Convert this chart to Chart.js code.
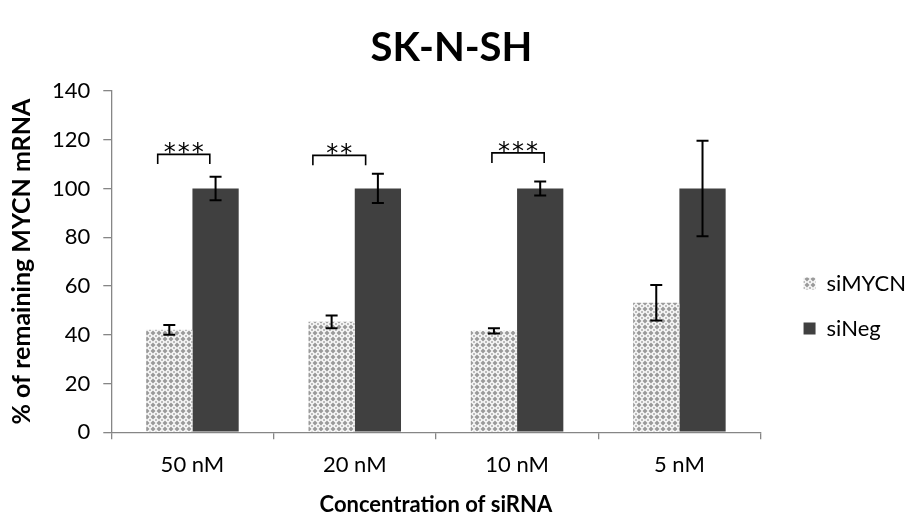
<!DOCTYPE html>
<html>
<head>
<meta charset="utf-8">
<script src="https://cdn.jsdelivr.net/npm/chart.js@4"></script>
<style>
  html, body { margin: 0; padding: 0; background: #ffffff; }
  #wrap { width: 912px; height: 518px; position: relative; }
</style>
</head>
<body>
<div id="wrap"><canvas id="c" width="912" height="518"></canvas></div>
<script>
// ---- data ----
const categories = ['50 nM', '20 nM', '10 nM', '5 nM'];
const siMYCN = [42.0, 45.3, 41.6, 53.1];
const siMYCNErr = [2.0, 2.6, 1.1, 7.3];
const siNeg = [100, 100, 100, 100];
const siNegErr = [4.8, 6.0, 2.9, 19.6];
const sigLabels = ['***', '**', '***', ''];
const bracketTop = [114, 113.6, 114.6, null];
const bracketLegBottom = [110, 109.5, 110.5, null];
const bracketStart = [-0.214, -0.258, -0.155, null]; // in category widths from center
const bracketEnd = [0.107, 0.067, 0.167, null];
const yTicks = [0, 20, 40, 60, 80, 100, 120, 140];

const FONT = 'Lato, "Open Sans", sans-serif';

function makePattern() {
  const p = document.createElement('canvas');
  p.width = 6; p.height = 6;
  const g = p.getContext('2d');
  g.fillStyle = '#f6f6f6';
  g.fillRect(0, 0, 6, 6);
  g.fillStyle = '#9a9a9a';
  g.beginPath();
  g.moveTo(3, 0.5); g.lineTo(5.5, 3); g.lineTo(3, 5.5); g.lineTo(0.5, 3); g.closePath();
  g.fill();
  g.fillStyle = '#bcbcbc';
  g.fillRect(0, 0, 1, 1); g.fillRect(5, 0, 1, 1); g.fillRect(0, 5, 1, 1); g.fillRect(5, 5, 1, 1);
  return document.getElementById('c').getContext('2d').createPattern(p, 'repeat');
}
const pattern = makePattern();

const errPlugin = {
  id: 'errbars',
  afterLayout(chart) {
    const lg = chart.legend;
    if (lg) {
      const dx = 20, dy = 47;
      lg.left += dx; lg.right += dx;
      lg.top += dy; lg.bottom += dy;
    }
  },
  afterDatasetsDraw(chart) {
    const ctx = chart.ctx;
    const y = chart.scales.y;
    const x = chart.scales.x;
    const errs = [siMYCNErr, siNegErr];
    ctx.save();
    ctx.strokeStyle = '#000000';
    ctx.lineWidth = 2;
    chart.data.datasets.forEach((ds, di) => {
      const meta = chart.getDatasetMeta(di);
      meta.data.forEach((el, i) => {
        const v = ds.data[i], e = errs[di][i];
        const yt = y.getPixelForValue(v + e), yb = y.getPixelForValue(v - e);
        const cx = el.x, hw = 6;
        ctx.beginPath();
        ctx.moveTo(cx, yt); ctx.lineTo(cx, yb);
        ctx.moveTo(cx - hw, yt); ctx.lineTo(cx + hw, yt);
        ctx.moveTo(cx - hw, yb); ctx.lineTo(cx + hw, yb);
        ctx.stroke();
      });
    });
    // significance brackets
    const catW = x.getPixelForValue(1) - x.getPixelForValue(0);
    ctx.lineWidth = 1.6;
    ctx.fillStyle = '#000000';
    ctx.font = '24px "DejaVu Sans", sans-serif';
    ctx.letterSpacing = '2px';
    ctx.textAlign = 'center';
    ctx.textBaseline = 'alphabetic';
    categories.forEach((c, i) => {
      if (bracketTop[i] === null) return;
      const cx = x.getPixelForValue(i);
      const x0 = cx + bracketStart[i] * catW, x1 = cx + bracketEnd[i] * catW;
      const yt = y.getPixelForValue(bracketTop[i]), yb = y.getPixelForValue(bracketLegBottom[i]);
      ctx.beginPath();
      ctx.moveTo(x0, yb); ctx.lineTo(x0, yt); ctx.lineTo(x1, yt); ctx.lineTo(x1, yb);
      ctx.stroke();
      ctx.fillText(sigLabels[i], (x0 + x1) / 2 + 1, yt + 6);
    });
    ctx.restore();
  }
};

new Chart(document.getElementById('c'), {
  type: 'bar',
  data: {
    labels: categories,
    datasets: [
      { label: 'siMYCN', data: siMYCN, backgroundColor: pattern, borderWidth: 0 },
      { label: 'siNeg', data: siNeg, backgroundColor: '#404040', borderWidth: 0 }
    ]
  },
  options: {
    responsive: false,
    animation: false,
    devicePixelRatio: 1,
    layout: { padding: { left: 7, right: 16, top: 0, bottom: 0 } },
    datasets: { bar: { categoryPercentage: 0.57, barPercentage: 1.0 } },
    plugins: {
      title: {
        display: true, text: 'SK-N-SH', color: '#000000',
        font: { family: FONT, size: 40, weight: 'bold' },
        padding: { top: 24, bottom: 19 }
      },
      legend: {
        display: true, position: 'right', align: 'center',
        labels: {
          color: '#000000', boxWidth: 12, boxHeight: 12, padding: 23,
          font: { family: FONT, size: 22 }
        }
      },
      tooltip: { enabled: false }
    },
    scales: {
      x: {
        type: 'category',
        offset: true,
        grid: { display: true, drawOnChartArea: false, offset: true, tickLength: 7, color: '#868686', lineWidth: 1.3 },
        border: { color: '#868686', width: 1.3 },
        ticks: { color: '#000000', font: { family: FONT, size: 22 }, padding: 13 },
        title: {
          display: true, text: 'Concentration of siRNA', color: '#000000',
          font: { family: FONT, size: 22, weight: 'bold' }, padding: { top: 0, bottom: 0 }
        }
      },
      y: {
        min: 0, max: 140,
        afterBuildTicks(axis) { axis.ticks = yTicks.map(v => ({ value: v })); },
        grid: { display: true, drawOnChartArea: false, tickLength: 8, color: '#868686', lineWidth: 1.3 },
        border: { color: '#868686', width: 1.3 },
        ticks: { color: '#000000', font: { family: FONT, size: 22 }, padding: 13 },
        title: {
          display: true, text: '% of remaining MYCN mRNA', color: '#000000',
          font: { family: FONT, size: 25, weight: 'bold' }, padding: { top: 0, bottom: 2 }
        }
      }
    }
  },
  plugins: [errPlugin]
});
</script>
</body>
</html>
